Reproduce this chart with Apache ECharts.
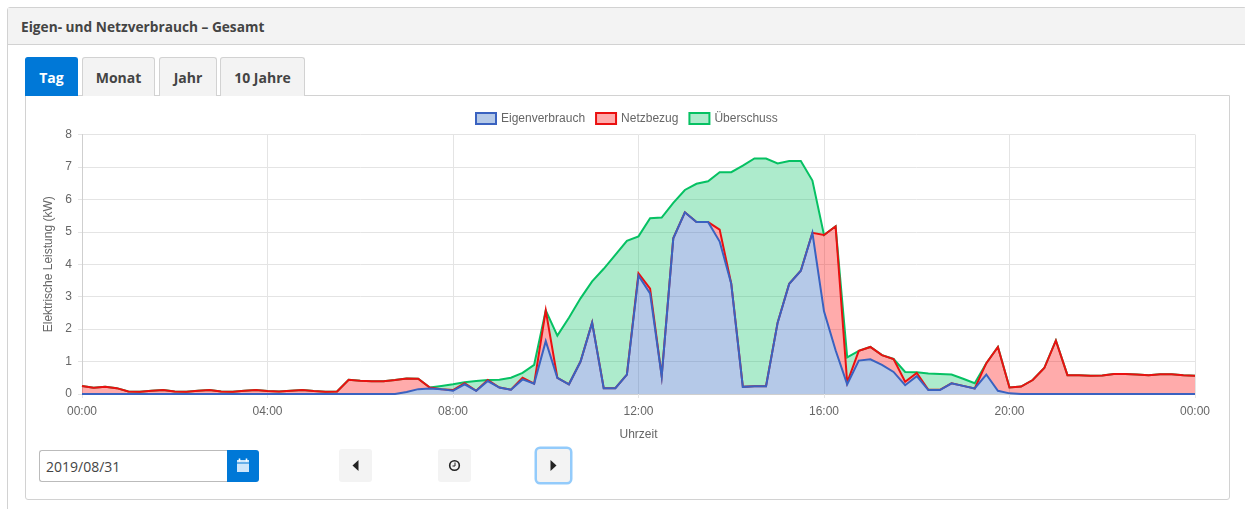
<!DOCTYPE html>
<html>
<head>
<meta charset="utf-8">
<title>Eigen- und Netzverbrauch</title>
<script src="https://cdn.jsdelivr.net/npm/echarts@6/dist/echarts.min.js"></script>
<style>
  html, body { margin: 0; padding: 0; background: #fff; overflow: hidden; }
  body { width: 1245px; height: 509px; position: relative; font-family: "Open Sans", sans-serif; color: #444; }
  .panel { position: absolute; left: 7px; top: 7px; width: 1240px; height: 510px; border: 1px solid #d2d2d2; border-radius: 3px; box-sizing: border-box; }
  .panel-head { height: 36px; background: #f3f3f3; border-bottom: 1px solid #d2d2d2; font-weight: 700; font-size: 13.7px; line-height: 38px; padding-left: 13px; color: #444; }
  .tab { position: absolute; top: 57px; height: 39px; box-sizing: border-box; background: #f3f3f3; border: 1px solid #d2d2d2; border-bottom: none; border-radius: 3px 3px 0 0; font-weight: 700; font-size: 14px; line-height: 40px; text-align: center; color: #444; }
  .tab.active { background: #0078d7; border-color: #0078d7; color: #fff; z-index: 2; height: 39px; }
  .box { position: absolute; left: 25px; top: 95px; width: 1205px; height: 405px; box-sizing: border-box; border: 1px solid #d2d2d2; border-radius: 0 0 3px 3px; }
  #main { position: absolute; left: 26px; top: 96px; width: 1202px; height: 350px; }
  .date { position: absolute; left: 39px; top: 450px; width: 189px; height: 32px; box-sizing: border-box; border: 1px solid #bbb; border-right: none; border-radius: 3px 0 0 3px; font-size: 14px; line-height: 31px; padding-left: 6px; color: #444; }
  .cal { position: absolute; left: 227px; top: 450px; width: 32px; height: 32px; background: #0078d7; border-radius: 0 3px 3px 0; }
  .nav { position: absolute; top: 449px; width: 33px; height: 33px; background: #f3f3f3; border-radius: 3px; }
  .nav.focus { box-shadow: 0 0 0 2.5px #93cbfb; }
  svg { position: absolute; left: 0; top: 0; }
</style>
</head>
<body>
<div class="panel"><div class="panel-head">Eigen- und Netzverbrauch – Gesamt</div></div>
<div class="box"></div>
<div class="tab active" style="left:25px;width:53px">Tag</div>
<div class="tab" style="left:82px;width:73px">Monat</div>
<div class="tab" style="left:159px;width:58px">Jahr</div>
<div class="tab" style="left:220px;width:85px">10 Jahre</div>
<div id="main"></div>
<div class="date">2019/08/31</div>
<div class="cal"><svg width="32" height="32"><path d="M10 10h12v12H10z" fill="#cfe6fb"/><path d="M10 13h12" stroke="#0078d7"/><path d="M12.5 8.5v3M19.5 8.5v3" stroke="#fff" stroke-width="1.6"/></svg></div>
<div class="nav" style="left:339px"><svg width="33" height="33"><path d="M19.5 11v11l-6-5.500z" fill="#222"/></svg></div>
<div class="nav" style="left:438px"><svg width="33" height="33"><circle cx="16.500" cy="16.500" r="4.800" fill="none" stroke="#222" stroke-width="1.600"/><path d="M17 13.500v3.500h-2.500" fill="none" stroke="#222"/></svg></div>
<div class="nav focus" style="left:537px"><svg width="33" height="33"><path d="M13.500 11v11l6-5.500z" fill="#222"/></svg></div>

<script>
const tick_step = 16;
const y_max = 8;

const times = [];
for (let h = 0; h <= 24; h++) {
  for (let m = 0; m < 60; m += 15) {
    if (h === 24 && m > 0) break;
    times.push(String(h % 24).padStart(2, "0") + ":" + String(m).padStart(2, "0"));
  }
}

const eigenverbrauch = [
  0, 0, 0, 0, 0, 0, 0, 0, 0, 0, 0, 0, 0, 0, 0, 0,
  0, 0, 0, 0, 0, 0, 0, 0, 0, 0, 0, 0, .06, .15, .17, .15,
  .1, .3, .1, .4, .2, .13, .45, .32, 1.63, .5, .3, 1.0, 2.2, .18, .18, .6,
  3.65, 3.1, .55, 4.8, 5.6, 5.3, 5.3, 4.7, 3.4, .22, .24, .24, 2.2, 3.4, 3.8, 4.97,
  2.55, 1.35, .3, 1.03, 1.07, .9, .68, .27, .55, .12, .12, .33, .25, .17, .6, .1,
  .02, 0, 0, 0, 0, 0, 0, 0, 0, 0, 0, 0, 0, 0, 0, 0,
  0
];
const netzbezug = [
  .25, .19, .22, .18, .08, .07, .1, .12, .08, .07, .1, .12, .08, .07, .1, .12,
  .09, .08, .1, .12, .09, .07, .08, .44, .41, .39, .39, .43, .42, .32, .03, 0,
  .02, .03, 0, .03, 0, 0, .05, 0, .95, 0, 0, 0, 0, 0, 0, 0,
  .07, .15, 0, 0, 0, 0, 0, .37, 0, 0, 0, 0, 0, 0, 0, 0,
  2.35, 3.82, .05, .3, .38, .3, .4, .11, .1, .01, .01, 0, 0, 0, .35, 1.35,
  .18, .23, .43, .8, 1.65, .58, .58, .56, .57, .62, .62, .6, .58, .61, .61, .58,
  .56
];
const ueberschuss = [
  0, 0, 0, 0, 0, 0, 0, 0, 0, 0, 0, 0, 0, 0, 0, 0,
  0, 0, 0, 0, 0, 0, 0, 0, 0, 0, 0, 0, 0, 0, 0, .1,
  .18, .03, .3, 0, .24, .37, .15, .58, 0, 1.3, 2.05, 1.95, 1.27, 3.68, 4.11, 4.12,
  1.14, 2.17, 4.89, 1.09, .69, 1.18, 1.26, 1.77, 3.44, 6.82, 7.02, 7.02, 4.91, 3.78, 3.38, 1.61,
  0, 0, .78, 0, 0, 0, 0, .3, .02, .5, .49, .27, .22, .16, 0, 0,
  0, 0, 0, 0, 0, 0, 0, 0, 0, 0, 0, 0, 0, 0, 0, 0,
  0
];

const blue = "#3a62c0", red = "#ea1010", green = "#06c163";
const blue_fill = "rgba(50,105,190,0.36)", red_fill = "rgba(255,0,0,0.33)", green_fill = "rgba(6,193,99,0.33)";
const grid_color = "#e4e4e4";
const axis_color = "#cfcfcf";
const font = "Liberation Sans";

function make_series(name, data, line, fill, z) {
  return {
    name: name,
    type: "line",
    stack: "gesamt",
    data: data,
    z: z,
    symbol: "none",
    lineStyle: { color: line, width: 2, join: "miter" },
    itemStyle: { color: fill, borderColor: line },
    areaStyle: { color: fill, opacity: 1 }
  };
}

const chart = echarts.init(document.querySelector("#main"));
chart.setOption({
  animation: false,
  tooltip: { trigger: "axis" },
  legend: {
    top: 11,
    left: 444,
    itemWidth: 20,
    itemHeight: 11,
    itemGap: 10,
    textStyle: { color: "#666", fontSize: 12, fontFamily: font },
    data: [
      { name: "Eigenverbrauch", icon: "rect", itemStyle: { color: blue_fill, borderColor: blue, borderWidth: 2 } },
      { name: "Netzbezug", icon: "rect", itemStyle: { color: red_fill, borderColor: red, borderWidth: 2 } },
      { name: "Überschuss", icon: "rect", itemStyle: { color: green_fill, borderColor: green, borderWidth: 2 } }
    ]
  },
  grid: { left: 56, right: 33, top: 38.5, height: 260.5, containLabel: false },
  xAxis: {
    type: "category",
    boundaryGap: false,
    data: times,
    name: "Uhrzeit",
    nameLocation: "middle",
    nameGap: 35,
    nameTextStyle: { color: "#666", fontSize: 12, fontFamily: font },
    axisLine: { lineStyle: { color: axis_color } },
    axisTick: { show: true, length: 4, interval: tick_step - 1, lineStyle: { color: grid_color } },
    axisLabel: { interval: tick_step - 1, color: "#666", fontSize: 12, fontFamily: font, margin: 12, showMaxLabel: true },
    splitLine: { show: true, interval: tick_step - 1, lineStyle: { color: grid_color } }
  },
  yAxis: {
    type: "value",
    min: 0,
    max: y_max,
    interval: 1,
    name: "Elektrische Leistung (kW)",
    nameLocation: "middle",
    nameRotate: 90,
    nameGap: 26,
    nameTextStyle: { color: "#666", fontSize: 12, fontFamily: font },
    axisLine: { show: true, lineStyle: { color: axis_color } },
    axisTick: { show: true, length: 4, lineStyle: { color: grid_color } },
    axisLabel: { color: "#666", fontSize: 12, fontFamily: font, margin: 10 },
    splitLine: { show: true, lineStyle: { color: grid_color } }
  },
  series: [
    make_series("Eigenverbrauch", eigenverbrauch, blue, blue_fill, 5),
    make_series("Netzbezug", netzbezug, red, red_fill, 4),
    make_series("Überschuss", ueberschuss, green, green_fill, 3)
  ]
});
</script>
</body>
</html>
